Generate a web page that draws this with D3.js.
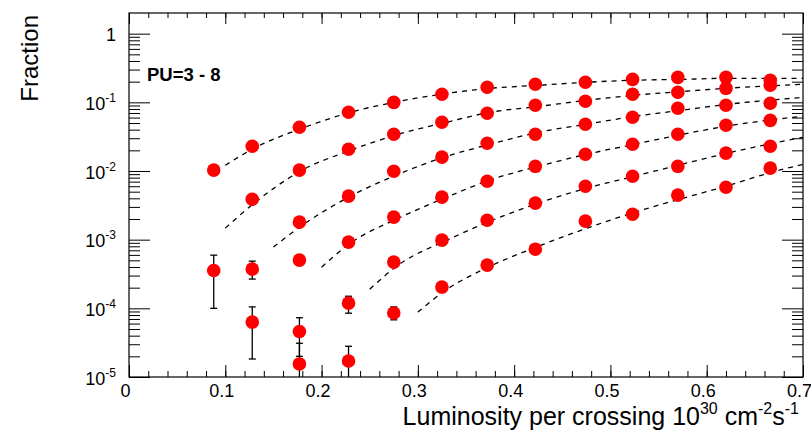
<!DOCTYPE html>
<html>
<head>
<meta charset="utf-8">
<script src="https://cdn.jsdelivr.net/npm/d3@7"></script>
<style>
  body { margin: 0; background: #fff; }
  svg { display: block; }
  text { font-family: "Liberation Sans", Arial, sans-serif; fill: #000; }
</style>
</head>
<body>
<svg id="chart" width="811" height="433"></svg>
<script>
// luminosity per crossing (bin centres)
const lumi = [0.088, 0.128, 0.177, 0.228, 0.275, 0.325, 0.372, 0.422, 0.474, 0.523, 0.570, 0.620, 0.666];

// fraction per pile-up class, null = no point
const frac1 = [0.0103, 0.0229, 0.0434, 0.0716, 0.100, 0.131, 0.166, 0.183, 0.196, 0.216, 0.231, 0.231, 0.209];
const frac2 = [3.56e-4, 3.88e-3, 0.0103, 0.0207, 0.0343, 0.0513, 0.0692, 0.0905, 0.1036, 0.131, 0.140, 0.160, 0.177];
const frac3 = [null, 3.73e-4, 1.80e-3, 4.30e-3, 9.9e-3, 0.0159, 0.0254, 0.0343, 0.048, 0.0606, 0.0819, 0.0905, 0.0968];
const frac4 = [null, 6.3e-5, 5.04e-4, 9.2e-4, 2.13e-3, 4.16e-3, 7.1e-3, 0.0117, 0.0175, 0.0245, 0.0343, 0.0463, 0.0547];
const frac5 = [null, null, 4.6e-5, 1.19e-4, 4.71e-4, 9.84e-4, 1.92e-3, 3.40e-3, 6.0e-3, 8.4e-3, 0.0117, 0.0182, 0.0229];
const frac6 = [null, null, 1.55e-5, 1.71e-5, 8.55e-5, 2.04e-4, 4.26e-4, 7.27e-4, 1.86e-3, 2.35e-3, 4.45e-3, 5.81e-3, 0.0110];

// visible error bars: [series, bin, low, high]
const errorBars = [
  [2, 0, 1.0e-4, 5.95e-4],
  [3, 1, 2.67e-4, 4.87e-4],
  [4, 1, 1.83e-5, 1.05e-4],
  [5, 2, 2.0e-5, 7.3e-5],
  [5, 3, 8.5e-5, 1.5e-4],
  [6, 2, 5e-6, 3.1e-5],
  [6, 3, 5e-6, 2.8e-5],
  [6, 4, 6.8e-5, 1.05e-4],
];

// dashed fit curves, [lumi, fraction]
const fit1 = [[0.10, 0.0121], [0.13, 0.0215], [0.18, 0.042], [0.23, 0.0716], [0.28, 0.103], [0.33, 0.135], [0.375, 0.160], [0.425, 0.177], [0.475, 0.196], [0.525, 0.210], [0.575, 0.216], [0.62, 0.224], [0.70, 0.224]];
const fit2 = [[0.10, 1.47e-3], [0.13, 3.4e-3], [0.18, 0.0103], [0.23, 0.020], [0.28, 0.0343], [0.33, 0.0513], [0.375, 0.0716], [0.425, 0.087], [0.475, 0.107], [0.525, 0.127], [0.575, 0.144], [0.62, 0.160], [0.70, 0.183]];
const fit3 = [[0.15, 7.8e-4], [0.18, 1.62e-3], [0.23, 4.3e-3], [0.28, 9.0e-3], [0.33, 0.0164], [0.375, 0.0245], [0.425, 0.0366], [0.475, 0.048], [0.525, 0.0625], [0.575, 0.077], [0.62, 0.093], [0.70, 0.118]];
const fit4 = [[0.20, 3.98e-4], [0.23, 8.9e-4], [0.28, 2.06e-3], [0.33, 4.16e-3], [0.375, 7.4e-3], [0.425, 0.0117], [0.475, 0.0175], [0.525, 0.0245], [0.575, 0.0343], [0.62, 0.0448], [0.70, 0.063]];
const fit5 = [[0.25, 1.9e-4], [0.28, 4.3e-4], [0.33, 9.8e-4], [0.375, 1.86e-3], [0.425, 3.4e-3], [0.475, 5.6e-3], [0.525, 8.4e-3], [0.575, 0.0126], [0.62, 0.018], [0.70, 0.031]];
const fit6 = [[0.30, 8.8e-5], [0.33, 1.88e-4], [0.375, 4.1e-4], [0.425, 8.0e-4], [0.475, 1.46e-3], [0.525, 2.5e-3], [0.575, 4.0e-3], [0.62, 6.0e-3], [0.67, 9.8e-3], [0.70, 0.0125]];

const xTicks = [0, 0.1, 0.2, 0.3, 0.4, 0.5, 0.6, 0.7];
const xTickLabels = ["0", "0.1", "0.2", "0.3", "0.4", "0.5", "0.6", "0.7"];
const yTicks = [1e-5, 1e-4, 1e-3, 1e-2, 1e-1, 1];
const yTickExps = ["-5", "-4", "-3", "-2", "-1", null];

const series = [frac1, frac2, frac3, frac4, frac5, frac6];
const fits = [fit1, fit2, fit3, fit4, fit5, fit6];

const M = { left: 129, top: 13 };
const W = 674, H = 364;

const svg = d3.select("#chart");

const x = d3.scaleLinear().domain([0, 0.7]).range([M.left, M.left + W]);
const y = d3.scaleLog().domain([1e-5, 2]).range([M.top + H, M.top]);

svg.append("defs").append("clipPath").attr("id", "plot-clip")
  .append("rect").attr("x", M.left).attr("y", M.top).attr("width", W).attr("height", H);

// minor tick positions
const xMinor = d3.range(0, 36).map((i) => i * 0.02).filter((v) => v <= 0.7001);
const yMinor = [];
yTicks.slice(0, -1).forEach((d) => {
  for (let k = 2; k <= 9; k++) yMinor.push(d * k);
});

function tickAxis(axis, transform) {
  const g = svg.append("g").attr("transform", transform).call(axis);
  g.select(".domain").remove();
  g.selectAll(".tick line").attr("stroke", "#000").attr("stroke-width", 1);
  return g;
}

// bottom/top x ticks
tickAxis(d3.axisBottom(x).tickValues(xMinor).tickSize(-6).tickFormat(""), `translate(0,${M.top + H})`);
tickAxis(d3.axisBottom(x).tickValues(xTicks).tickSize(-12).tickFormat(""), `translate(0,${M.top + H})`);
tickAxis(d3.axisTop(x).tickValues(xMinor).tickSize(-5).tickFormat(""), `translate(0,${M.top})`);
tickAxis(d3.axisTop(x).tickValues(xTicks).tickSize(-11).tickFormat(""), `translate(0,${M.top})`);

// left/right y ticks
tickAxis(d3.axisLeft(y).tickValues(yMinor).tickSize(-11).tickFormat(""), `translate(${M.left},0)`);
tickAxis(d3.axisLeft(y).tickValues(yTicks).tickSize(-21).tickFormat(""), `translate(${M.left},0)`);
tickAxis(d3.axisRight(y).tickValues(yMinor).tickSize(-11).tickFormat(""), `translate(${M.left + W},0)`);
tickAxis(d3.axisRight(y).tickValues(yTicks).tickSize(-21).tickFormat(""), `translate(${M.left + W},0)`);

// frame
svg.append("rect")
  .attr("x", M.left).attr("y", M.top).attr("width", W).attr("height", H)
  .attr("fill", "none").attr("stroke", "#000").attr("stroke-width", 1.2);

// x tick labels
svg.append("g").selectAll("text").data(xTicks).join("text")
  .attr("x", (d) => x(d) - 3.5)
  .attr("y", M.top + H + 20)
  .attr("text-anchor", "middle")
  .attr("font-size", 18)
  .attr("fill", "#333")
  .text((d, i) => xTickLabels[i]);

// y tick labels
const yLab = svg.append("g").selectAll("text").data(yTicks).join("text")
  .attr("x", 116)
  .attr("y", (d) => y(d) + 7.5)
  .attr("text-anchor", "end")
  .attr("font-size", 18)
  .attr("fill", "#333");
yLab.each(function (d, i) {
  const t = d3.select(this);
  if (yTickExps[i] === null) {
    t.text("1");
  } else {
    t.append("tspan").text("10");
    t.append("tspan").attr("font-size", 12).attr("dy", -8).text(yTickExps[i]);
  }
});

// axis titles
const xt = svg.append("text")
  .attr("x", 799).attr("y", 425)
  .attr("text-anchor", "end")
  .attr("font-size", 25)
  .attr("fill", "#333");
xt.append("tspan").text("Luminosity per crossing 10");
xt.append("tspan").attr("font-size", 16).attr("dy", -11).text("30");
xt.append("tspan").attr("dy", 11).text(" cm");
xt.append("tspan").attr("font-size", 16).attr("dy", -11).text("-2");
xt.append("tspan").attr("dy", 11).text("s");
xt.append("tspan").attr("font-size", 16).attr("dy", -11).text("-1");

svg.append("text")
  .attr("transform", "translate(38,15) rotate(-90)")
  .attr("text-anchor", "end")
  .attr("font-size", 24)
  .attr("fill", "#333")
  .text("Fraction");

svg.append("text")
  .attr("x", 147).attr("y", 80.5)
  .attr("font-size", 18.5)
  .attr("font-weight", "bold")
  .text("PU=3 - 8");

// plot content
const plot = svg.append("g").attr("clip-path", "url(#plot-clip)");

const line = d3.line()
  .x((d) => x(d[0]))
  .y((d) => y(d[1]))
  .curve(d3.curveMonotoneX);

plot.selectAll("path.fit").data(fits).join("path")
  .attr("class", "fit")
  .attr("d", line)
  .attr("fill", "none")
  .attr("stroke", "#000")
  .attr("stroke-width", 1.3)
  .attr("stroke-dasharray", "5,5");

const errG = plot.append("g").attr("stroke", "#000").attr("stroke-width", 1.3);
errorBars.forEach(([s, b, lo, hi]) => {
  const cx = x(lumi[b]);
  errG.append("line").attr("x1", cx).attr("x2", cx).attr("y1", y(lo)).attr("y2", y(hi));
  [lo, hi].forEach((v) => {
    errG.append("line").attr("x1", cx - 3.5).attr("x2", cx + 3.5).attr("y1", y(v)).attr("y2", y(v));
  });
});

series.forEach((vals) => {
  const pts = vals.map((v, i) => [lumi[i], v]).filter((d) => d[1] !== null);
  plot.append("g").selectAll("circle").data(pts).join("circle")
    .attr("cx", (d) => x(d[0]))
    .attr("cy", (d) => y(d[1]))
    .attr("r", 6.8)
    .attr("fill", "#ff0000");
});
</script>
</body>
</html>
